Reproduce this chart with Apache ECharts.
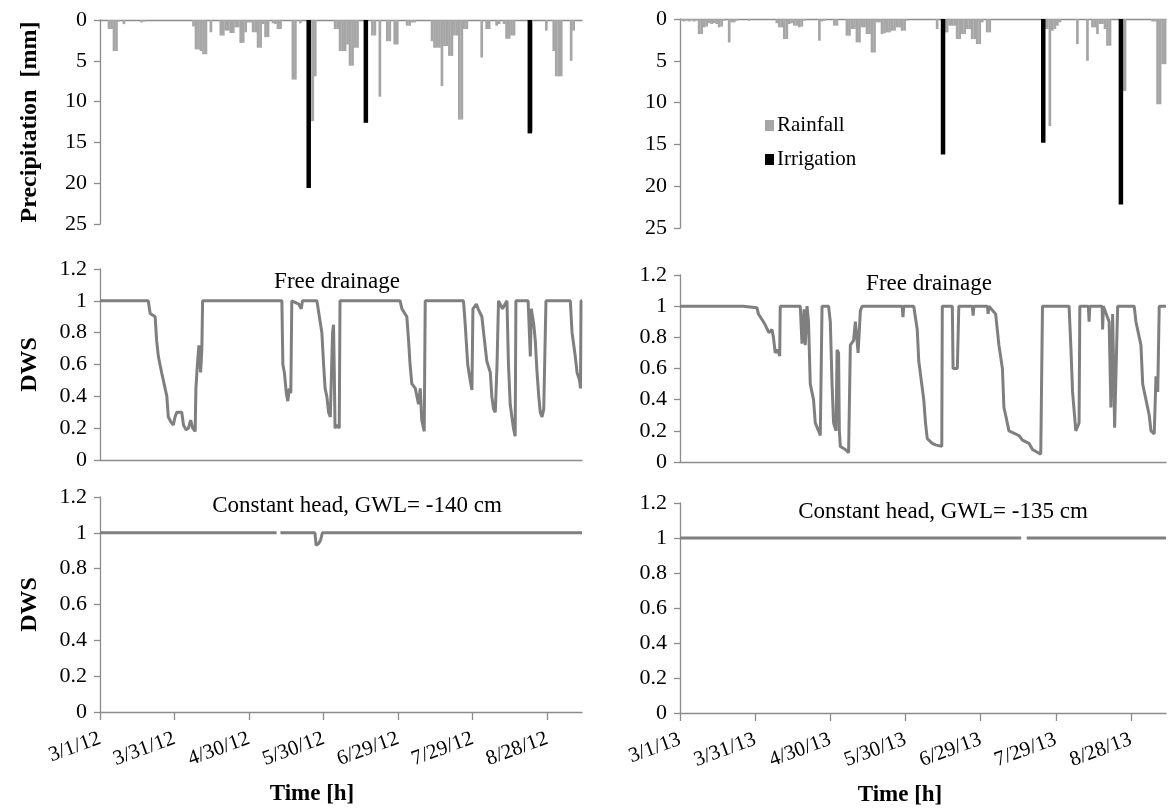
<!DOCTYPE html>
<html>
<head>
<meta charset="utf-8">
<script src="https://cdn.jsdelivr.net/npm/echarts@6/dist/echarts.min.js"></script>
<style>
html,body{margin:0;padding:0;background:#fff;}
#chart{width:1168px;height:812px;}
</style>
</head>
<body>
<div id="chart"></div>
<script>
// ---------- data (days counted from 1 March) ----------
const xTickDays = [0, 30, 60, 90, 120, 150, 180];
const xTickLabels2012 = ['3/1/12', '3/31/12', '4/30/12', '5/30/12', '6/29/12', '7/29/12', '8/28/12'];
const xTickLabels2013 = ['3/1/13', '3/31/13', '4/30/13', '5/30/13', '6/29/13', '7/29/13', '8/28/13'];

// daily rainfall [day, mm]
const rain2012 = [
  [4,1.1],[5,1.1],[6,3.8],[7,3.8],[8,0.2],[10,0.5],[17,0.3],[18,0.2],
  [38,0.8],[39,3.6],[40,3.6],[41,3.8],[42,4.2],[43,4.2],[45,1.5],
  [49,1.9],[50,1.9],[51,1.3],[52,1.3],[53,1.6],[54,1.6],[55,0.9],[56,0.9],[57,2.8],[58,2.8],
  [59,1.5],[60,0.3],[61,0.3],[62,1.5],[63,1.5],[64,3.4],[65,3.4],[66,0.5],[67,2.1],[68,2.1],
  [70,0.4],[71,0.5],[72,1.1],[73,1.1],[78,7.3],[79,7.3],[81,0.4],[85,12.4],[86,12.4],[87,6.9],
  [95,1.1],[96,1.1],[97,3.8],[98,3.8],[99,3.8],[100,3.0],[101,5.6],[102,5.6],[103,3.4],[104,3.4],
  [110,1.9],[111,1.9],[113,9.4],[116,2.6],[117,2.6],[119,3.0],[120,3.0],
  [124,0.7],[125,0.7],[126,0.3],[127,0.3],
  [134,2.6],[135,3.4],[136,3.4],[137,3.4],[138,8.1],[139,3.2],[140,3.2],[141,4.4],[142,4.4],
  [143,1.9],[144,1.9],[145,12.2],[146,12.2],[147,1.1],[148,1.1],
  [154,4.6],[156,1.1],[157,1.1],[160,0.7],[161,0.5],[163,0.5],[164,2.3],[165,2.3],[166,1.9],[167,1.9],
  [174,13.7],[180,1.3],[183,3.8],[184,6.9],[185,6.9],[186,6.9],[190,5.0],[191,1.3]
];
const irrig2012 = [[84,20.6],[107,12.6],[173,13.9]];

const rain2013 = [
  [1,0.2],[2,0.3],[3,0.2],[4,0.3],[5,0.2],[6,0.3],[7,0.2],
  [8,1.8],[9,1.8],[10,1.0],[11,0.9],[12,0.5],[13,0.6],[14,0.5],[15,0.6],[16,1.0],[17,0.9],[18,0.2],
  [20,2.8],[21,0.4],[22,0.4],[23,0.2],[28,0.2],
  [39,0.5],[40,1.0],[41,1.0],[42,2.4],[43,2.4],[44,0.6],[45,0.5],[46,0.8],[47,0.8],[48,1.0],[49,0.9],[50,0.2],
  [56,2.6],[57,0.3],[58,0.2],[62,0.8],[63,0.8],
  [67,2.0],[68,2.0],[69,1.2],[70,1.2],[71,2.8],[72,2.8],[73,1.0],[74,1.0],[75,1.8],[76,1.8],[77,4.0],[78,4.0],
  [79,0.4],[80,0.4],[81,1.8],[82,1.7],[83,1.6],[84,1.6],[85,1.4],[86,1.4],[87,1.0],[88,1.0],[89,1.4],[90,1.4],[91,0.2],
  [103,1.2],[106,1.6],[107,1.6],[108,0.8],[109,0.8],[110,0.8],[111,2.4],[112,2.4],[113,1.8],[114,1.8],
  [115,1.2],[116,1.2],[117,2.4],[118,2.4],[119,3.0],[120,3.0],[121,0.4],[123,1.6],[124,1.6],
  [146,1.2],[147,1.2],[148,12.8],[149,1.4],[150,1.2],[151,0.8],[152,0.4],
  [159,3.0],[163,5.0],[165,1.0],[166,1.0],[167,1.8],[168,0.6],[169,0.6],[170,1.2],[171,3.2],[172,3.2],
  [177,8.6],[178,8.6],[189,0.3],[190,0.3],[191,10.2],[192,10.2],[193,5.4],[194,5.4]
];
const irrig2013 = [[105,16.2],[145,14.8],[176,22.2]];

// DWS, free drainage [day, DWS]
const dwsFree2012 = [
  [0,1],[19.4,1],[20.2,0.92],[22.2,0.9],[22.8,0.75],[23.5,0.65],[24.8,0.55],[25.5,0.5],[26.9,0.4],
  [27.5,0.27],[28.5,0.24],[29.5,0.22],[30.2,0.27],[30.9,0.3],[32.9,0.3],[33.6,0.22],[34.6,0.19],
  [35.6,0.2],[36.5,0.25],[37.3,0.2],[38.3,0.18],[38.6,0.45],[39.2,0.6],[39.8,0.72],[40.5,0.55],
  [41,0.7],[41.3,1],[73.2,1],[73.6,0.6],[74.2,0.55],[75,0.42],[75.6,0.37],[76.2,0.45],[76.8,0.42],
  [77.2,1],[80,0.98],[81,0.95],[81.5,1],[87.3,1],[88.3,0.9],[89.3,0.8],[90,0.6],[90.6,0.45],
  [91.3,0.4],[92,0.3],[92.7,0.27],[93.3,0.26],[93.6,0.8],[94,0.85],[94.3,0.55],[94.6,0.2],
  [95.5,0.22],[96.3,0.2],[96.6,1],[120.8,1],[121.5,0.95],[123.5,0.9],[124.2,0.75],[124.8,0.6],
  [125.5,0.48],[126.9,0.45],[128.2,0.35],[128.9,0.45],[129.5,0.25],[130.5,0.18],[130.9,1],
  [146.3,1],[147,0.85],[148,0.6],[149,0.5],[149.7,0.44],[150.1,0.95],[151.5,0.98],[152.2,0.95],
  [153.7,0.9],[154.4,0.8],[155.7,0.62],[157.1,0.55],[157.7,0.4],[158.4,0.32],[159.1,0.3],
  [159.8,0.6],[160.4,1],[162,0.95],[163.8,1],[164.4,0.6],[165.1,0.35],[166.4,0.2],[167.1,0.15],
  [167.4,1],[172.3,1],[172.5,0.93],[173.2,0.65],[173.6,0.95],[174.6,0.85],[175.2,0.75],
  [175.9,0.55],[176.6,0.4],[177.2,0.3],[177.9,0.27],[178.6,0.32],[179.5,1],[189.3,1],[190,0.8],
  [191.3,0.65],[192,0.55],[193,0.5],[193.4,0.45],[193.6,1],[194,1]
];
const dwsFree2013 = [
  [0,1],[25.3,1],[30.7,0.99],[31.3,0.95],[33.3,0.9],[34,0.88],[35.5,0.83],[36.7,0.85],[37.3,0.8],
  [38,0.7],[39,0.72],[39.8,0.68],[40,1],[48,1],[48.7,0.76],[49.5,0.98],[50,0.75],[50.7,1],
  [51.3,0.9],[52,0.5],[53.3,0.4],[54,0.25],[55.3,0.2],[56,0.17],[56.7,1],[59.3,1],[60,0.9],
  [60.7,0.5],[61.3,0.25],[62.3,0.2],[62.7,0.72],[63.3,0.7],[63.6,0.2],[64,0.1],[66,0.08],
  [67.3,0.06],[68,0.75],[69.3,0.78],[70,0.9],[71.1,0.7],[72,0.97],[72.7,1],[88.7,1],[89,0.93],
  [89.3,1],[93.3,1],[94.7,0.85],[95.3,0.65],[97.3,0.4],[98,0.25],[98.7,0.15],[100.7,0.12],
  [102,0.11],[104.5,0.1],[104.7,1],[108.7,1],[109,0.6],[110.7,0.6],[111.3,1],[116.7,1],
  [117,0.94],[117.3,1],[122.7,1],[123,0.95],[123.3,1],[126,0.95],[127.3,0.75],[128.7,0.6],
  [129.3,0.35],[130,0.3],[131.3,0.2],[135.3,0.17],[136.7,0.14],[139.3,0.12],[140.7,0.08],
  [144,0.05],[144.5,0.05],[144.7,1],[155.3,1],[156,0.75],[156.7,0.45],[158,0.2],[159.3,0.25],
  [159.6,1],[163,1],[163.3,0.9],[163.6,1],[168.5,1],[168.7,0.85],[169,1],[171.3,0.9],[172,0.35],
  [172.7,0.95],[173.5,0.22],[174,0.22],[174.7,1],[181.3,1],[182,0.9],[184,0.75],[184.7,0.5],
  [187.3,0.3],[188,0.2],[189.3,0.18],[190,0.55],[190.7,0.45],[191.3,1],[194,1]
];

// DWS, constant head [day, DWS] ('-' marks a missing value)
const dwsConst2012 = [
  [0,1],[71.1,1],[71.3,'-'],[72.6,1],[86.5,1],[87,0.93],[88,0.94],[88.8,0.96],[89.5,1],[194,1]
];
const dwsConst2013 = [
  [0,1],[136.2,1],[136.5,'-'],[138.4,1],[194,1]
];

// ---------- styling ----------
const FONT = "'Liberation Serif','Times New Roman',serif";
const AXIS_GRAY = '#8c8c8c';
const RAIN_GRAY = '#a6a6a6';
const LINE_GRAY = '#7f7f7f';
const X_MAX = 194;

const grids = [
  {left:100, top:20,  width:482, height:204},
  {left:680, top:19,  width:486, height:209},
  {left:100, top:269, width:482, height:191},
  {left:680, top:275, width:486, height:187},
  {left:100, top:497, width:482, height:215},
  {left:680, top:503, width:486, height:210}
];

const axisLine = {show:true, onZero:false, lineStyle:{color:AXIS_GRAY, width:1.3}};
const labelStyle = {fontFamily:FONT, fontSize:22, color:'#000'};

function xAxisFor(i){
  const base = {type:'value', gridIndex:i, min:0, max:X_MAX, interval:30,
    splitLine:{show:false}, axisLine:axisLine};
  if (i < 2) return Object.assign(base, {position:'top', axisTick:{show:false}, axisLabel:{show:false}});
  if (i < 4) return Object.assign(base, {position:'bottom', axisTick:{show:false}, axisLabel:{show:false}});
  const labels = i === 4 ? xTickLabels2012 : xTickLabels2013;
  return Object.assign(base, {
    position:'bottom',
    axisTick:{show:true, length:8, customValues:xTickDays, lineStyle:{color:AXIS_GRAY, width:1.3}},
    axisLabel:Object.assign({show:true, rotate:20, margin:26, customValues:xTickDays,
      formatter:function(v){ const k = xTickDays.indexOf(Math.round(v)); return k >= 0 ? labels[k] : ''; }},
      labelStyle, {fontSize:21}),
    name:'Time [h]', nameLocation:'middle', nameGap:71,
    nameTextStyle:{fontFamily:FONT, fontSize:23, fontWeight:'bold', color:'#000',
      padding: i === 4 ? [0,58,0,0] : [0,46,0,0]}
  });
}

function yAxisFor(i){
  const isPrecip = i < 2;
  const base = {type:'value', gridIndex:i, splitLine:{show:false}, axisLine:axisLine,
    axisTick:{show:true, length:6, lineStyle:{color:AXIS_GRAY, width:1.3}},
    axisLabel:Object.assign({margin:13}, labelStyle)};
  if (isPrecip) Object.assign(base, {min:0, max:25, interval:5, inverse:true});
  else Object.assign(base, {min:0, max:1.2, interval:0.2});
  if (i % 2 === 0) {
    Object.assign(base, {
      name: isPrecip ? 'Precipitation  [mm]' : 'DWS',
      nameLocation:'middle', nameRotate:90, nameGap:58,
      nameTextStyle:{fontFamily:FONT, fontSize:24, fontWeight:'bold', color:'#000'}
    });
  }
  return base;
}

const series = [];
[[rain2012, irrig2012, 0], [rain2013, irrig2013, 1]].forEach(function(p){
  series.push({type:'bar', name:'Rainfall', xAxisIndex:p[2], yAxisIndex:p[2], data:p[0],
    barWidth:2.7, barGap:'-100%', itemStyle:{color:RAIN_GRAY}, silent:true});
  series.push({type:'bar', name:'Irrigation', xAxisIndex:p[2], yAxisIndex:p[2], data:p[1],
    barWidth:4.5, barGap:'-100%', itemStyle:{color:'#000'}, silent:true});
});
[[dwsFree2012,2],[dwsFree2013,3],[dwsConst2012,4],[dwsConst2013,5]].forEach(function(p){
  series.push({type:'line', name:'DWS'+p[1], xAxisIndex:p[1], yAxisIndex:p[1], data:p[0],
    symbol:'none', connectNulls:false, lineStyle:{color:LINE_GRAY, width:3},
    silent:true});
});

const titleStyle = {fontFamily:FONT, fontSize:23, fontWeight:'normal', color:'#000'};
const option = {
  animation:false,
  backgroundColor:'#fff',
  grid:grids,
  xAxis:[0,1,2,3,4,5].map(xAxisFor),
  yAxis:[0,1,2,3,4,5].map(yAxisFor),
  title:[
    {text:'Free drainage', left:337, top:270, textAlign:'center', padding:0, textStyle:titleStyle},
    {text:'Free drainage', left:929, top:272, textAlign:'center', padding:0, textStyle:titleStyle},
    {text:'Constant head, GWL= -140 cm', left:357, top:494, textAlign:'center', padding:0, textStyle:titleStyle},
    {text:'Constant head, GWL= -135 cm', left:943, top:500, textAlign:'center', padding:0, textStyle:titleStyle}
  ],
  legend:{
    data:['Rainfall','Irrigation'], orient:'vertical', left:765, top:115,
    icon:'rect', itemWidth:9, itemHeight:11, itemGap:13, padding:0,
    textStyle:{fontFamily:FONT, fontSize:21, color:'#000', padding:[0,0,0,-2]},
    selectedMode:false
  },
  series:series
};

echarts.init(document.getElementById('chart'), null, {renderer:'canvas'}).setOption(option);
</script>
</body>
</html>
